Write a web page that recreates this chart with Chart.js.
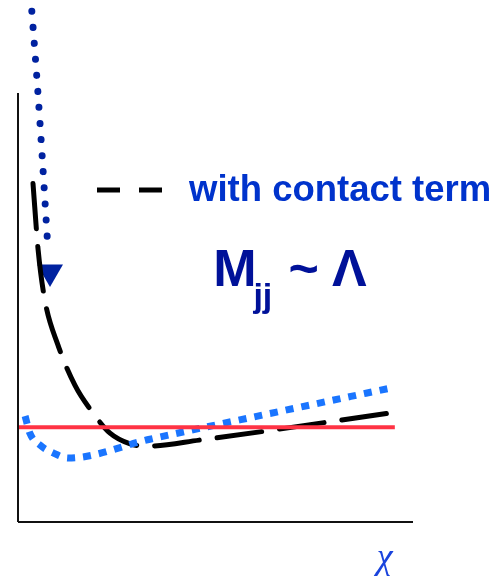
<!DOCTYPE html>
<html>
<head>
<meta charset="utf-8">
<script src="https://cdn.jsdelivr.net/npm/chart.js@4.4.1/dist/chart.umd.min.js"></script>
<style>
  html, body { margin: 0; padding: 0; background: #fff; }
  #wrap { width: 501px; height: 576px; }
</style>
</head>
<body>
<div id="wrap"><canvas id="chiChart"></canvas></div>
<script>
// curves in chi-plot units (x: 0-100 along the axis, y: 0-100 up the axis)
const flatX = [0, 95.4];
const flatY = [22.1, 22.1];

const qcdX = [1.8, 3.0, 5.6, 8.9, 12.7, 33.4, 63.8, 94.2];
const qcdY = [24.7, 20.7, 17.9, 16.1, 14.9, 19.3, 25.3, 31.2];

const contactX = [3.8, 5.1, 6.8, 10.1, 14.4, 19.0, 23.3, 28.4, 32.9, 46.0, 94.2];
const contactY = [78.9, 63.4, 51.7, 41.3, 31.9, 25.4, 20.7, 18.2, 17.7, 19.1, 25.4];

const arrowX = [3.5, 5.0, 6.1, 7.6];
const arrowY = [119.1, 100.7, 85.5, 63.4];
const arrowHeadX = [8.1];
const arrowHeadY = [58.3];

const legendX = [20.0, 36.5];
const legendY = [77.4, 77.4];

const axisYX = [0, 0];
const axisYY = [0, 100];
const axisXX = [0, 100];
const axisXY = [0, 0];

function pts(xs, ys) {
    return xs.map((x, i) => ({ x: x, y: ys[i] }));
}

function line(xs, ys, color, width, dash, cap, extra) {
    return Object.assign({
        data: pts(xs, ys),
        borderColor: color,
        borderWidth: width,
        borderDash: dash,
        borderCapStyle: cap,
        pointRadius: 0,
        fill: false,
        clip: false
    }, extra || {});
}

const textPlugin = {
    id: 'labels',
    afterDraw(chart) {
        const c = chart.ctx;
        const sx = chart.scales.x, sy = chart.scales.y;
        const px = v => sx.getPixelForValue(v);
        const py = v => sy.getPixelForValue(v);
        c.save();
        c.textBaseline = 'alphabetic';
        c.textAlign = 'left';

        c.fillStyle = '#0033cc';
        c.font = 'bold 36.5px "Liberation Sans", Arial, sans-serif';
        c.fillText('with contact term', px(43.3), py(74.8));

        c.fillStyle = '#001199';
        c.font = 'bold 52px "Liberation Sans", Arial, sans-serif';
        c.fillText('M', px(49.4), py(55.0));
        c.font = 'bold 34px "Liberation Sans", Arial, sans-serif';
        c.fillText('jj', px(59.6), py(50.1));
        c.font = 'bold 52px "Liberation Sans", Arial, sans-serif';
        c.fillText('~', px(68.5), py(55.0));
        c.fillText('\u039B', px(79.5), py(55.0));

        c.fillStyle = '#1a44dd';
        c.font = 'italic 36px "Liberation Serif", "DejaVu Serif", serif';
        c.fillText('\u03C7', px(90.8), py(-10.7));
        c.restore();
    }
};

new Chart(document.getElementById('chiChart'), {
    type: 'line',
    data: {
        datasets: [
            line(axisYX, axisYY, '#111111', 2, [], 'butt'),
            line(axisXX, axisXY, '#111111', 2, [], 'butt'),
            line(flatX, flatY, '#ff3344', 4, [], 'butt'),
            line(qcdX, qcdY, '#1a75ff', 7, [8, 8], 'butt', { cubicInterpolationMode: 'monotone' }),
            line(contactX, contactY, '#000000', 5, [45, 18], 'round', { cubicInterpolationMode: 'monotone' }),
            line(arrowX, arrowY, '#0022a0', 7, [0.1, 16], 'round', { cubicInterpolationMode: 'monotone' }),
            {
                data: pts(arrowHeadX, arrowHeadY),
                showLine: false,
                pointStyle: 'triangle',
                rotation: 180,
                pointRadius: 15,
                backgroundColor: '#0022a0',
                borderColor: '#0022a0',
                borderWidth: 0,
                clip: false
            },
            line(legendX, legendY, '#000000', 5, [23, 19], 'butt')
        ]
    },
    options: {
        responsive: true,
        maintainAspectRatio: false,
        animation: false,
        events: [],
        layout: { autoPadding: false, padding: { left: 18, right: 88, top: 0, bottom: 54 } },
        plugins: {
            legend: { display: false },
            tooltip: { enabled: false }
        },
        scales: {
            x: { type: 'linear', min: 0, max: 100, display: false },
            y: { type: 'linear', min: 0, max: 121.7, display: false }
        }
    },
    plugins: [textPlugin]
});
</script>
</body>
</html>
